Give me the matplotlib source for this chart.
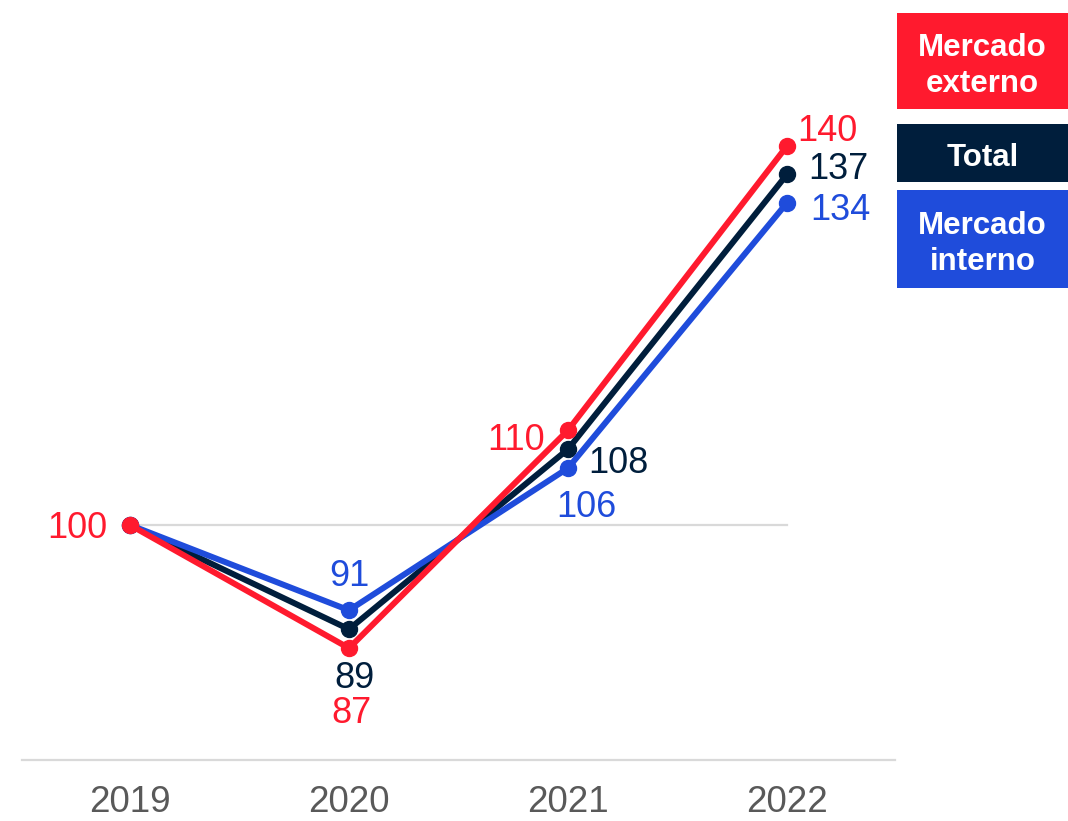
import matplotlib
matplotlib.use("Agg")
import matplotlib.pyplot as plt
from matplotlib.patches import Rectangle

plt.rcParams['font.family'] = ['Liberation Sans', 'DejaVu Sans']

years = ['2019', '2020', '2021', '2022']
externo = [100, 87, 110, 140]
total = [100, 89, 108, 137]
interno = [100, 91, 106, 134]

RED = '#FF1A2E'
NAVY = '#001E3C'
BLUE = '#1F4CDB'
GRID = '#D9D9D9'

fig = plt.figure(figsize=(10.68, 8.21), dpi=100)
ax = fig.add_axes([22/1068, 1 - 760/821, (895-22)/1068, 760/821])
x = list(range(len(years)))

ax.set_xlim(-0.493, 3.493)
ax.set_ylim(75.2, 155.4)

# reference line at 100
ax.plot([x[0], x[-1]], [100, 100], color=GRID, lw=1.6, zorder=1)

series = [
    (total, NAVY, [(0, 0), (6, -59), (20, -24), (21, -5)], [None, 'center', 'left', 'left']),
    (interno, BLUE, [(0, 0), (0, 24), (18, -49), (23, -17)], [None, 'center', 'center', 'left']),
    (externo, RED, [(-23, -13), (3, -75), (-23, -20), (10, 5)], ['right', 'center', 'right', 'left']),
]
for i, (vals, col, offs, has) in enumerate(series):
    ax.plot(x, vals, color=col, lw=4.3, marker='o', ms=11.5, zorder=3 + i,
            solid_joinstyle='miter')
    for xi, v, off, ha in zip(x, vals, offs, has):
        if ha is None:
            continue
        ax.annotate(str(v), (xi, v), xytext=off, textcoords='offset pixels',
                    ha=ha, va='baseline', fontsize=26, color=col, zorder=10)

for s in ['top', 'right', 'left']:
    ax.spines[s].set_visible(False)
ax.spines['bottom'].set_color(GRID)
ax.spines['bottom'].set_linewidth(1.6)
ax.set_yticks([])
ax.set_xticks(x)
ax.set_xticklabels(years)
ax.tick_params(axis='x', length=0, pad=18, labelsize=26.5, labelcolor='#595959')
ax.patch.set_visible(False)

# legend boxes
legend_items = [
    ('Mercado\nexterno', RED, 13, 109),
    ('Total', NAVY, 124, 182),
    ('Mercado\ninterno', BLUE, 190, 288),
]
for label, col, top, bot in legend_items:
    x0 = 897 / 1068
    w = (1068 - 897) / 1068
    y0 = 1 - bot / 821
    h = (bot - top) / 821
    fig.patches.append(Rectangle((x0, y0), w, h, transform=fig.transFigure,
                                 facecolor=col, edgecolor='none'))
    fig.text(x0 + w / 2, y0 + h / 2 - 5 / 821, label, ha='center', va='center',
             fontsize=22.5, fontweight='bold', color='white', linespacing=1.3)

fig.savefig('out.png', dpi=100)
